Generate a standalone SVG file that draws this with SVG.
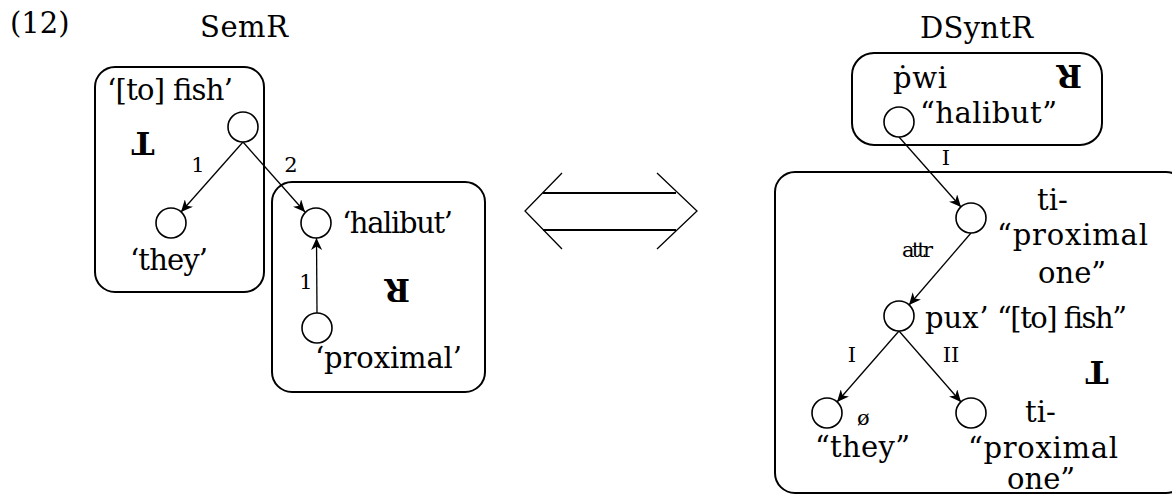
<svg xmlns="http://www.w3.org/2000/svg" width="1172" height="497" viewBox="0 0 1172 497">
<style>
text{font-family:"DejaVu Serif","Liberation Serif",serif;fill:#000}
.t{font-size:29px}
.s{font-size:21px}
.b{font-size:31px;font-weight:bold}
.box{fill:none;stroke:#000;stroke-width:2}
.node{fill:#fff;stroke:#000;stroke-width:1.6}
.edge{fill:none;stroke:#000;stroke-width:1.3}
.thick{fill:none;stroke:#000;stroke-width:2.2}
</style>
<defs>
<marker id="ah" markerUnits="userSpaceOnUse" markerWidth="13" markerHeight="11" refX="12" refY="5.5" orient="auto">
<path d="M0,0 L12,5.5 L0,11 L3.5,5.5 z" fill="#000"/>
</marker>
</defs>
<rect width="1172" height="497" fill="#fff"/>
<text class="t" x="10" y="33" font-size="26">(12)</text>
<text class="t" x="200" y="37" textLength="88">SemR</text>
<text class="t" x="920" y="38" textLength="113">DSyntR</text>

<g id="semr-box-T">
<rect class="box" x="95" y="67" width="169" height="225" rx="20"/>
<text class="b" x="143" y="154" text-anchor="middle" transform="rotate(180 143 143)">T</text>
</g>
<g id="semr-box-R">
<rect class="box" x="272" y="182" width="213" height="210" rx="20"/>
<text class="b" x="397" y="301" text-anchor="middle" transform="rotate(180 397 290)">R</text>
</g>
<g id="dsynt-box-R">
<rect class="box" x="852" y="53" width="250" height="92" rx="22"/>
<text class="b" x="1069" y="85" font-size="27" text-anchor="middle" transform="rotate(180 1069 75)">R</text>
</g>
<g id="dsynt-box-T">
<rect class="box" x="775" y="172" width="411" height="321" rx="20"/>
<text class="b" x="1097" y="383" text-anchor="middle" transform="rotate(180 1097 372)">T</text>
</g>

<g id="connectors">
<line class="edge" x1="243" y1="142" x2="181" y2="212" marker-end="url(#ah)"/>
<line class="edge" x1="243" y1="142" x2="305" y2="212" marker-end="url(#ah)"/>
<line class="edge" x1="317" y1="313" x2="316.5" y2="238" marker-end="url(#ah)"/>
<line class="edge" x1="899" y1="137" x2="961" y2="207" marker-end="url(#ah)"/>
<line class="edge" x1="971" y1="233" x2="909" y2="305" marker-end="url(#ah)"/>
<line class="edge" x1="899" y1="331" x2="837" y2="402" marker-end="url(#ah)"/>
<line class="edge" x1="899" y1="331" x2="961" y2="402" marker-end="url(#ah)"/>
<text class="s" x="198" y="172" text-anchor="middle">1</text>
<text class="s" x="291" y="172" text-anchor="middle">2</text>
<text class="s" x="306" y="289" text-anchor="middle">1</text>
<text class="s" x="946" y="165" text-anchor="middle">I</text>
<text class="s" x="902" y="257" font-size="18" textLength="31">attr</text>
<text class="s" x="852" y="362" text-anchor="middle">I</text>
<text class="s" x="951" y="362" text-anchor="middle">II</text>
</g>

<g id="equivalence-arrow">
<line class="thick" x1="543" y1="193" x2="676" y2="193"/>
<line class="thick" x1="543" y1="230" x2="676" y2="230"/>
<polyline class="edge" points="562,173 525,211 562,249"/>
<polyline class="edge" points="657,173 697,211 657,249"/>
</g>

<g id="sem-fish">
<circle class="node" cx="243" cy="127" r="15"/>
<text class="t" x="107" y="100" textLength="126">‘[to] fish’</text>
</g>
<g id="sem-they">
<circle class="node" cx="171" cy="223" r="15"/>
<text class="t" x="130" y="270" textLength="78">‘they’</text>
</g>
<g id="sem-halibut">
<circle class="node" cx="316" cy="223" r="15"/>
<text class="t" x="342" y="233" textLength="111">‘halibut’</text>
</g>
<g id="sem-proximal">
<circle class="node" cx="317" cy="328" r="15"/>
<text class="t" x="315" y="368" textLength="147">‘proximal’</text>
</g>

<g id="dsynt-halibut">
<circle class="node" cx="899" cy="122" r="15"/>
<text class="t" x="893" y="88" textLength="54">ṗwi</text>
<text class="t" x="920" y="123" textLength="137">“halibut”</text>
</g>
<g id="dsynt-proximal-one">
<circle class="node" cx="971" cy="218" r="15"/>
<text class="t" x="1037" y="210">ti-</text>
<text class="t" x="997" y="245" textLength="151">“proximal</text>
<text class="t" x="1038" y="283">one”</text>
</g>
<g id="dsynt-fish">
<circle class="node" cx="899" cy="316" r="15"/>
<text class="t" x="925" y="328">puxʼ</text>
<text class="t" x="997" y="328" textLength="130">“[to] fish”</text>
</g>
<g id="dsynt-they">
<circle class="node" cx="827" cy="413" r="15"/>
<text class="s" x="857" y="425" font-size="22">ø</text>
<text class="t" x="815" y="457" textLength="95">“they”</text>
</g>
<g id="dsynt-proximal-one-2">
<circle class="node" cx="971" cy="413" r="15"/>
<text class="t" x="1025" y="422">ti-</text>
<text class="t" x="968" y="458" textLength="150">“proximal</text>
<text class="t" x="1007" y="489">one”</text>
</g>
</svg>
